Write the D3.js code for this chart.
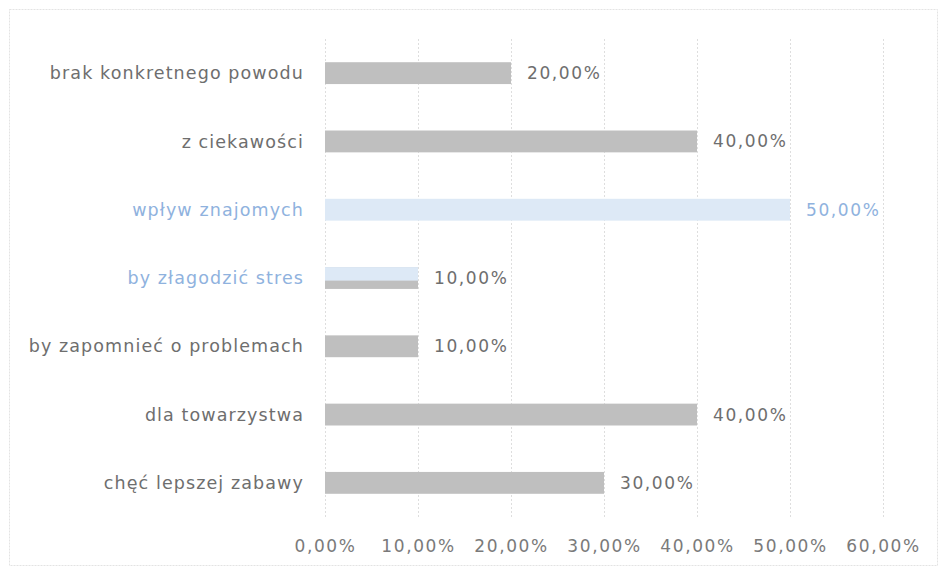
<!DOCTYPE html>
<html>
<head>
<meta charset="utf-8">
<script src="https://cdn.jsdelivr.net/npm/d3@7"></script>
<style>
  body { margin: 0; background: #fff; }
  text { font-family: "DejaVu Sans", sans-serif; }
</style>
</head>
<body>
<script>
// Données du graphique
const categories = ["brak konkretnego powodu", "z ciekawości", "wpływ znajomych",
                    "by złagodzić stres", "by zapomnieć o problemach",
                    "dla towarzystwa", "chęć lepszej zabawy"];
const values = [20, 40, 50, 10, 10, 40, 30];
const tickValues = [0, 10, 20, 30, 40, 50, 60];
const highlighted = ["wpływ znajomych", "by złagodzić stres"];
const halfHighlighted = ["by złagodzić stres"];

const W = 939, H = 571;
const margin = {top: 39, right: 56, bottom: 54, left: 325};

const svg = d3.select("body").append("svg")
    .attr("width", W)
    .attr("height", H);

// cadre
svg.append("rect")
    .attr("x", 9.5).attr("y", 9.5)
    .attr("width", 928).attr("height", 556)
    .attr("fill", "none")
    .attr("stroke", "#e3e3e3")
    .attr("stroke-dasharray", "2,1");

const x = d3.scaleLinear()
    .domain([0, 60])
    .range([margin.left, W - margin.right]);

const y = d3.scaleBand()
    .domain(categories)
    .range([margin.top, H - margin.bottom])
    .paddingInner(0.68)
    .paddingOuter(0.34);

const fmt = v => d3.format(".2f")(v).replace(".", ",") + "%";

// grille verticale
svg.append("g")
    .selectAll("line")
    .data(tickValues)
    .join("line")
    .attr("x1", d => Math.round(x(d)) + 0.5)
    .attr("x2", d => Math.round(x(d)) + 0.5)
    .attr("y1", margin.top)
    .attr("y2", H - margin.bottom)
    .attr("stroke", "#dedede")
    .attr("stroke-dasharray", "2,2");

// axe x (étiquettes seulement)
const xAxis = svg.append("g")
    .attr("transform", `translate(0, ${H - margin.bottom})`)
    .call(d3.axisBottom(x).tickValues(tickValues).tickFormat(fmt).tickSize(0).tickPadding(23));
xAxis.select(".domain").remove();
xAxis.selectAll("text")
    .attr("font-family", "DejaVu Sans")
    .attr("font-size", 17)
    .attr("letter-spacing", 1.6)
    .attr("fill", "#7a7a7a");

// barres
const rows = categories.map((c, i) => ({cat: c, val: values[i]}));

svg.append("g")
    .selectAll("rect")
    .data(rows)
    .join("rect")
    .attr("x", x(0))
    .attr("y", d => y(d.cat))
    .attr("width", d => x(d.val) - x(0))
    .attr("height", y.bandwidth())
    .attr("fill", d => highlighted.includes(d.cat) && !halfHighlighted.includes(d.cat) ? "#dde9f6" : "#bfbfbf");

// partie claire de la barre à moitié surlignée
svg.append("g")
    .selectAll("rect")
    .data(rows.filter(d => halfHighlighted.includes(d.cat)))
    .join("rect")
    .attr("x", x(0))
    .attr("y", d => y(d.cat))
    .attr("width", d => x(d.val) - x(0))
    .attr("height", y.bandwidth() * 0.62)
    .attr("fill", "#dde9f6");

// étiquettes de catégories
svg.append("g")
    .selectAll("text")
    .data(rows)
    .join("text")
    .attr("x", margin.left - 21)
    .attr("y", d => y(d.cat) + y.bandwidth() / 2)
    .attr("dy", "0.35em")
    .attr("text-anchor", "end")
    .attr("font-size", 17.5)
    .attr("letter-spacing", 1.1)
    .attr("fill", d => highlighted.includes(d.cat) ? "#8fb2de" : "#6e6e6e")
    .text(d => d.cat);

// étiquettes de valeurs
svg.append("g")
    .selectAll("text")
    .data(rows)
    .join("text")
    .attr("x", d => x(d.val) + 16)
    .attr("y", d => y(d.cat) + y.bandwidth() / 2)
    .attr("dy", "0.35em")
    .attr("font-size", 17)
    .attr("letter-spacing", 1.6)
    .attr("fill", d => highlighted.includes(d.cat) && !halfHighlighted.includes(d.cat) ? "#8fb2de" : "#6e6e6e")
    .text(d => fmt(d.val));
</script>
</body>
</html>
